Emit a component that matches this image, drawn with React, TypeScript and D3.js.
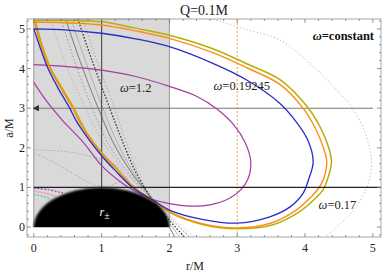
import React from 'react';
import * as d3 from 'd3';

type P = [number, number];

const xDomain: [number, number] = [-0.1, 5.12];
const yDomain: [number, number] = [-0.25, 5.25];
const xTicks = [0, 1, 2, 3, 4, 5];
const yTicks = [0, 1, 2, 3, 4, 5];
const minorStep = 0.2;

const title = 'Q=0.1M';
const xLabel = 'r/M';
const yLabel = 'a/M';

// shaded region r in [0,2], black disk r_± centred at r=1
const shadeR: [number, number] = [0, 2];
const diskCenter = 1;
const diskRadius = 1;

const olive: P[] = [
  [0, 5.22], [0.5, 5.21], [1, 5.18], [1.5, 5.02], [2, 4.84], [2.64, 4.5], [3.14, 4.12], [3.63, 3.72],
  [4.05, 3.0], [4.23, 2.5], [4.35, 2.0], [4.39, 1.65], [4.33, 1.2], [4.27, 0.95], [4.15, 0.72],
  [3.92, 0.39], [3.53, 0.06], [3.0, -0.04], [2.5, 0.06], [2.0, 0.37], [1.77, 0.66], [1.47, 1.02],
  [1.2, 1.52], [1.0, 1.88], [0.8, 2.33], [0.68, 2.7], [0.59, 3.0], [0.42, 3.5], [0.25, 4.0],
  [0.12, 4.6], [0.02, 5.18], [0, 5.22],
];
const orange: P[] = [
  [0, 5.17], [0.5, 5.15], [1, 5.1], [1.5, 4.95], [2, 4.76], [2.64, 4.4], [3.14, 4.02], [3.63, 3.6],
  [3.97, 3.0], [4.15, 2.5], [4.27, 2.0], [4.32, 1.65], [4.27, 1.2], [4.2, 0.98], [4.1, 0.78],
  [3.87, 0.43], [3.48, 0.09], [3.0, -0.02], [2.5, 0.08], [2.0, 0.39], [1.77, 0.66], [1.47, 1.01],
  [1.2, 1.5], [1.0, 1.86], [0.8, 2.3], [0.66, 2.7], [0.575, 3.0], [0.4, 3.5], [0.236, 4.0],
  [0.1, 4.6], [0.015, 5.13], [0, 5.17],
];
const blue: P[] = [
  [0, 5.0], [0.5, 4.97], [1, 4.89], [1.5, 4.75], [2, 4.55], [2.64, 4.13], [3.14, 3.71], [3.63, 3.12],
  [3.85, 2.7], [4.04, 2.2], [4.12, 1.65], [4.05, 1.19], [3.97, 0.85], [3.78, 0.51], [3.48, 0.26],
  [2.99, 0.1], [2.5, 0.19], [2.0, 0.43], [1.77, 0.67], [1.47, 0.98], [1.2, 1.43], [1.0, 1.8],
  [0.8, 2.24], [0.62, 2.7], [0.53, 3.0], [0.36, 3.5], [0.21, 4.0], [0.1, 4.5], [0, 5.0],
];
const purple: P[] = [
  [0, 4.1], [0.5, 4.05], [1, 3.96], [1.5, 3.8], [2, 3.55], [2.4, 3.3], [2.7, 2.98], [2.95, 2.58],
  [3.12, 2.12], [3.2, 1.65], [3.16, 1.22], [3.05, 0.94], [2.88, 0.72], [2.6, 0.56], [2.3, 0.53],
  [2.0, 0.59], [1.77, 0.69], [1.47, 0.93], [1.28, 1.14], [1.0, 1.55], [0.74, 2.12], [0.42, 2.7],
  [0.2, 3.15], [0, 3.65],
];

// grey steep curves converging near (1.76, 0.67)
const greySolid: P[] = [[0.47, 5.25], [0.68, 4.2], [0.95, 3.0], [1.18, 2.1], [1.45, 1.35], [1.76, 0.67], [2.08, -0.25]];
const greySolidLight: P[] = [[0.55, 5.25], [0.76, 4.2], [1.02, 3.0], [1.24, 2.1], [1.48, 1.35], [1.76, 0.67], [2.15, -0.25]];
const blackDotted: P[] = [[0.65, 5.25], [0.86, 4.2], [1.12, 3.0], [1.3, 2.2], [1.5, 1.4], [1.76, 0.67], [2.22, -0.25]];
const greyDotted: P[] = [[0.4, 5.25], [0.6, 4.2], [0.86, 3.0], [1.1, 2.1], [1.4, 1.35], [1.76, 0.67], [2.3, -0.25]];
const greyDotted2: P[] = [[0.72, 5.25], [0.93, 4.2], [1.19, 3.0], [1.35, 2.2], [1.53, 1.4], [1.76, 0.67], [2.3, -0.25]];
const lightDotted: P[] = [[0.25, 5.25], [0.45, 4.2], [0.76, 3.0], [1.0, 2.2], [1.35, 1.4], [1.76, 0.67], [2.37, -0.25]];
const arcDotted1: P[] = [[0, 1.95], [0.5, 1.9], [0.85, 1.78], [1.18, 1.6], [1.35, 1.3], [1.47, 0.93], [1.55, 0.7]];
const arcDotted2: P[] = [[0, 1.87], [0.3, 1.63], [0.6, 1.33], [0.85, 1.1], [1.0, 1.01], [1.15, 1.06], [1.3, 1.18]];
const outerDotted: P[] = [
  [2.6, 5.27], [3.1, 5.0], [3.63, 4.72], [4.12, 4.05], [4.51, 3.38], [4.7, 3.0], [4.88, 2.4],
  [4.98, 1.69], [4.93, 1.1], [4.75, 0.5], [4.5, 0.05], [4.3, -0.25],
];
const purpleDashedArc: P[] = [[0, 0.98], [0.2, 0.95], [0.43, 0.86]];
const pinkArc: P[] = [[0, 0.9], [0.18, 0.85], [0.33, 0.77]];
const cyanArc: P[] = [[0, 0.82], [0.15, 0.77], [0.26, 0.69]];

const hLineBlack = 1;
const hLineArrow = 3;
const vLineBlack = 1;
const vLineOrange = 3;

const labels = [
  { text: '1.2', r: 1.27, a: 3.4 },
  { text: '0.19245', r: 2.65, a: 3.45 },
  { text: '0.17', r: 4.2, a: 0.45 },
];

export default function App() {
  const W = 382, H = 274;
  const x = d3.scaleLinear().domain(xDomain).range([27, 381]);
  const y = d3.scaleLinear().domain(yDomain).range([237, 19]);
  const line = d3
    .line<P>()
    .x((d) => x(d[0]))
    .y((d) => y(d[1]))
    .curve(d3.curveCatmullRom.alpha(0.5));

  const minorX = d3.range(-0.0, 5.12, minorStep).filter((v) => Math.abs(v - Math.round(v)) > 1e-6);
  const minorY = d3.range(-0.2, 5.25, minorStep).filter((v) => Math.abs(v - Math.round(v)) > 1e-6);
  const x0 = x(xDomain[0]), x1 = x(xDomain[1]), y0 = y(yDomain[0]), y1 = y(yDomain[1]);
  const font = '"Liberation Serif", "DejaVu Serif", serif';

  return (
    <svg width={W} height={H} style={{ position: 'absolute', left: 0, top: 0, background: '#fff' }} fontFamily={font}>
      <defs>
        <clipPath id="plot">
          <rect x={x0} y={y1} width={x1 - x0} height={y0 - y1} />
        </clipPath>
        <clipPath id="upper">
          <rect x={x0} y={y1} width={x1 - x0} height={y(0) - y1} />
        </clipPath>
        <filter id="blur" x="-10%" y="-10%" width="120%" height="120%">
          <feGaussianBlur stdDeviation="0.9" />
        </filter>
        <marker id="arr" viewBox="0 0 10 10" refX="2" refY="5" markerWidth="6" markerHeight="6" orient="auto-start-reverse">
          <path d="M0,0 L10,5 L0,10 z" fill="#333" />
        </marker>
      </defs>

      {/* shaded region */}
      <rect x={x(shadeR[0])} y={y1} width={x(shadeR[1]) - x(shadeR[0])} height={y(0) - y1} fill="#d9d9d9" stroke="#9a9a9a" strokeWidth={1} />

      <g clipPath="url(#plot)" fill="none">
        <path d={line(outerDotted)!} stroke="#aaa" strokeWidth={1} strokeDasharray="1,2.5" />
        <path d={line(arcDotted1)!} stroke="#999" strokeWidth={1} strokeDasharray="1,2" />
        <path d={line(arcDotted2)!} stroke="#999" strokeWidth={1} strokeDasharray="1,2" />
        <path d={line(lightDotted)!} stroke="#aaa" strokeWidth={1} strokeDasharray="1,2" />
        <path d={line(greyDotted)!} stroke="#999" strokeWidth={1} strokeDasharray="1.5,2" />
        <path d={line(greyDotted2)!} stroke="#aaa" strokeWidth={1} strokeDasharray="1.5,2" />
        <path d={line(greySolidLight)!} stroke="#b0b0b0" strokeWidth={1} />
        <path d={line(greySolid)!} stroke="#888" strokeWidth={1.1} />
        <path d={line(blackDotted)!} stroke="#333" strokeWidth={1.4} strokeDasharray="1.4,1.8" />

        {/* reference lines */}
        <line x1={x(vLineOrange)} x2={x(vLineOrange)} y1={y0} y2={y1} stroke="#f0a050" strokeWidth={1} strokeDasharray="2,2" />
        <line x1={x(vLineBlack)} x2={x(vLineBlack)} y1={y(0)} y2={y1} stroke="#555" strokeWidth={1.2} />
        <line x1={x(0.06)} x2={x(5.0)} y1={y(hLineArrow)} y2={y(hLineArrow)} stroke="#777" strokeWidth={1.1} markerStart="url(#arr)" />

        <path d={line(purple)!} stroke="#a43ca4" strokeWidth={1.2} />
        <path d={line(olive)!} stroke="#b5b000" strokeWidth={1.5} />
        <path d={line(orange)!} stroke="#ff8c1a" strokeWidth={1.4} />
        <path d={line(blue)!} stroke="#2a2ac8" strokeWidth={1.3} />

        <path d={line(purpleDashedArc)!} stroke="#a040b0" strokeWidth={1.2} strokeDasharray="2,1.5" />
        <path d={line(pinkArc)!} stroke="#f7a0b0" strokeWidth={1.4} />
        <path d={line(cyanArc)!} stroke="#40c0c8" strokeWidth={1.2} strokeDasharray="2,1.5" />
      </g>

      {/* black disk */}
      <g clipPath="url(#upper)">
        <ellipse
          cx={x(diskCenter)}
          cy={y(0)}
          rx={x(diskCenter + diskRadius) - x(diskCenter)}
          ry={y(0) - y(diskRadius)}
          fill="#000"
          filter="url(#blur)"
        />
      </g>
      <line x1={x(0)} x2={x1} y1={y(hLineBlack)} y2={y(hLineBlack)} stroke="#222" strokeWidth={1.2} />
      <text x={x(0.97)} y={y(0.28)} fill="#fff" fontSize={12} fontStyle="italic">
        r<tspan fontSize={10} fontStyle="normal" dy={3}>±</tspan>
      </text>

      {/* frame */}
      <rect x={x0} y={y1} width={x1 - x0} height={y0 - y1} fill="none" stroke="#a8a8a8" strokeWidth={1} />
      <g stroke="#777" strokeWidth={0.8}>
        {xTicks.map((t) => (
          <g key={'xt' + t}>
            <line x1={x(t)} x2={x(t)} y1={y0} y2={y0 - 4} />
            <line x1={x(t)} x2={x(t)} y1={y1} y2={y1 + 4} />
          </g>
        ))}
        {minorX.map((t) => (
          <g key={'xm' + t}>
            <line x1={x(t)} x2={x(t)} y1={y0} y2={y0 - 2} />
            <line x1={x(t)} x2={x(t)} y1={y1} y2={y1 + 2} />
          </g>
        ))}
        {yTicks.map((t) => (
          <g key={'yt' + t}>
            <line x1={x0} x2={x0 + 4} y1={y(t)} y2={y(t)} />
            <line x1={x1} x2={x1 - 4} y1={y(t)} y2={y(t)} />
          </g>
        ))}
        {minorY.map((t) => (
          <g key={'ym' + t}>
            <line x1={x0} x2={x0 + 2} y1={y(t)} y2={y(t)} />
            <line x1={x1} x2={x1 - 2} y1={y(t)} y2={y(t)} />
          </g>
        ))}
      </g>
      <g fontSize={12} fill="#222">
        {xTicks.map((t) => (
          <text key={'xl' + t} x={x(t)} y={252} textAnchor="middle">{t}</text>
        ))}
        {yTicks.map((t) => (
          <text key={'yl' + t} x={25} y={y(t) + 4} textAnchor="end">{t}</text>
        ))}
      </g>

      {/* labels */}
      <text x={204} y={15} textAnchor="middle" fontSize={14} fill="#222">{title}</text>
      <text x={195} y={270} textAnchor="middle" fontSize={12} fill="#222">{xLabel}</text>
      <text x={0} y={0} transform={`translate(13,${y(2.5)}) rotate(-90)`} textAnchor="middle" fontSize={12} fill="#222">{yLabel}</text>
      <text x={374} y={40} textAnchor="end" fontSize={12.5} fontWeight="bold" fill="#111">
        <tspan fontStyle="italic">ω</tspan>=constant
      </text>
      {labels.map((l) => (
        <text key={l.text} x={x(l.r)} y={y(l.a)} fontSize={12.5} fill="#222">
          <tspan fontStyle="italic">ω</tspan>={l.text}
        </text>
      ))}
    </svg>
  );
}
